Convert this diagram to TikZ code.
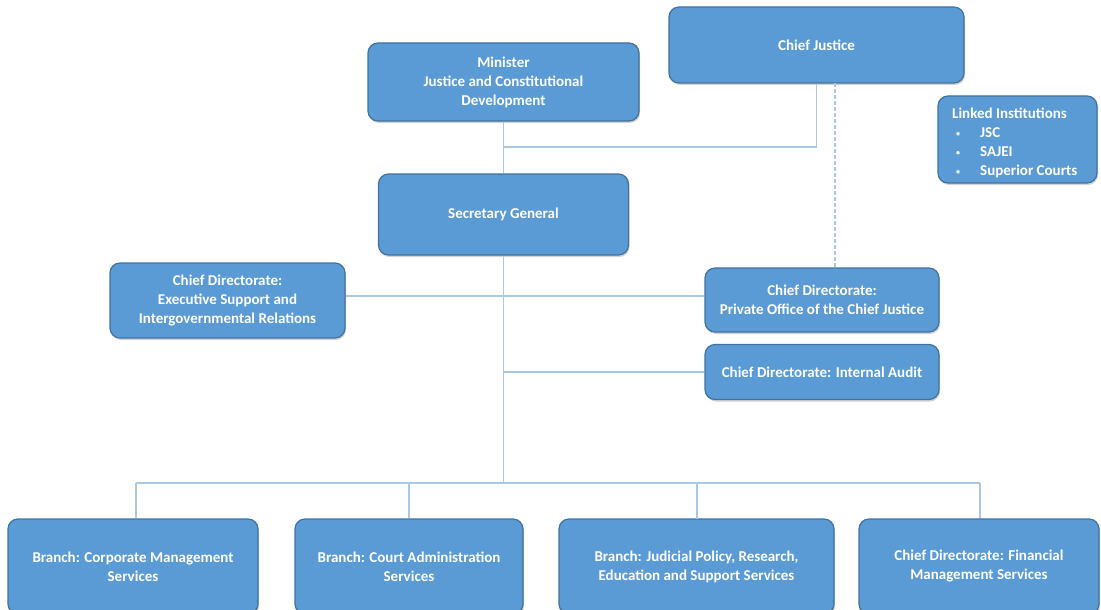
\documentclass[tikz,border=0pt]{standalone}
\usepackage{fontspec}
\setmainfont{Carlito}
\usetikzlibrary{shadows}
\definecolor{boxfill}{HTML}{5B9BD5}
\definecolor{boxborder}{HTML}{41719C}
\definecolor{linecol}{HTML}{A9C8E8}
\newcommand{\smbullet}{\raisebox{1.5pt}{\fontsize{8}{8}\selectfont\textbullet}}
\tikzset{
  boxtext/.style={text=white, font=\bfseries\fontsize{15}{19}\selectfont, align=center, inner sep=0pt},
  box/.style={boxtext, draw=boxborder, line width=1.2pt, fill=boxfill, rounded corners=10pt,
    drop shadow={opacity=0.35, shadow xshift=1pt, shadow yshift=-2pt}},
  conn/.style={draw=linecol, line width=1.4pt},
  dashconn/.style={draw=linecol, line width=1.2pt, dash pattern=on 4pt off 2pt}
}
\begin{document}
\begin{tikzpicture}[x=1pt,y=-1pt]
\useasboundingbox (0,0) rectangle (1101,610);
\coordinate (j1) at (503.5,147);
\coordinate (t1) at (503.5,296);
\coordinate (t2) at (503.5,372);
\coordinate (bus) at (503.5,483);
\coordinate (busL) at (136,483);
\coordinate (busR) at (980,483);
\coordinate (d1) at (835,83);
\coordinate (d2) at (835,269);
% nodes
\node[box, minimum width=271, minimum height=78] (min) at (503.5,82) {Minister\\Justice and Constitutional\\Development};
\node[box, minimum width=295, minimum height=76] (cj) at (816.5,45) {Chief Justice};
\node[box, minimum width=159, minimum height=87] (li) at (1017.5,139.5) {};
\node[boxtext, align=left, anchor=north west] (litext) at (952,108)
  {Linked Institutions\\\hspace*{4pt}\smbullet\hspace{20pt}JSC\\\hspace*{4pt}\smbullet\hspace{20pt}SAJEI\\\hspace*{4pt}\smbullet\hspace{20pt}Superior Courts};
\node[box, minimum width=250, minimum height=81] (sg) at (503.5,214.5) {Secretary General};
\node[box, minimum width=235, minimum height=75] (es) at (227.5,300.5) {Chief Directorate:\\Executive Support and\\Intergovernmental Relations};
\node[box, minimum width=234, minimum height=64] (po) at (822,300) {Chief Directorate:\\Private Office of the Chief Justice};
\node[box, minimum width=234, minimum height=55] (ia) at (822,372) {Chief Directorate: Internal Audit};
\node[box, minimum width=250, minimum height=95] (b1) at (133,566.5) {Branch: Corporate Management\\Services};
\node[box, minimum width=228, minimum height=95] (b2) at (409,566.5) {Branch: Court Administration\\Services};
\node[box, minimum width=275, minimum height=95] (b3) at (696.5,566.5) {Branch: Judicial Policy, Research,\\Education and Support Services};
\node[box, minimum width=240, minimum height=95] (b4) at (979,566.5) {Chief Directorate: Financial\\Management Services};
% connectors
\draw[conn] (min.south) -- (sg.north);
\draw[conn] (cj.south) |- (j1);
\draw[dashconn] (d1) -- (d2);
\draw[conn] (sg.south) -- (bus);
\draw[conn] (es.east |- t1) -- (po.west |- t1);
\draw[conn] (t2) -- (ia.west);
\draw[conn] (busL) -- (busR);
\draw[conn] (busL) -- (busL |- b1.north);
\draw[conn] (b2.north |- bus) -- (b2.north);
\draw[conn] (697,483) -- (697,519);
\draw[conn] (busR) -- (busR |- b4.north);
\end{tikzpicture}
\end{document}
